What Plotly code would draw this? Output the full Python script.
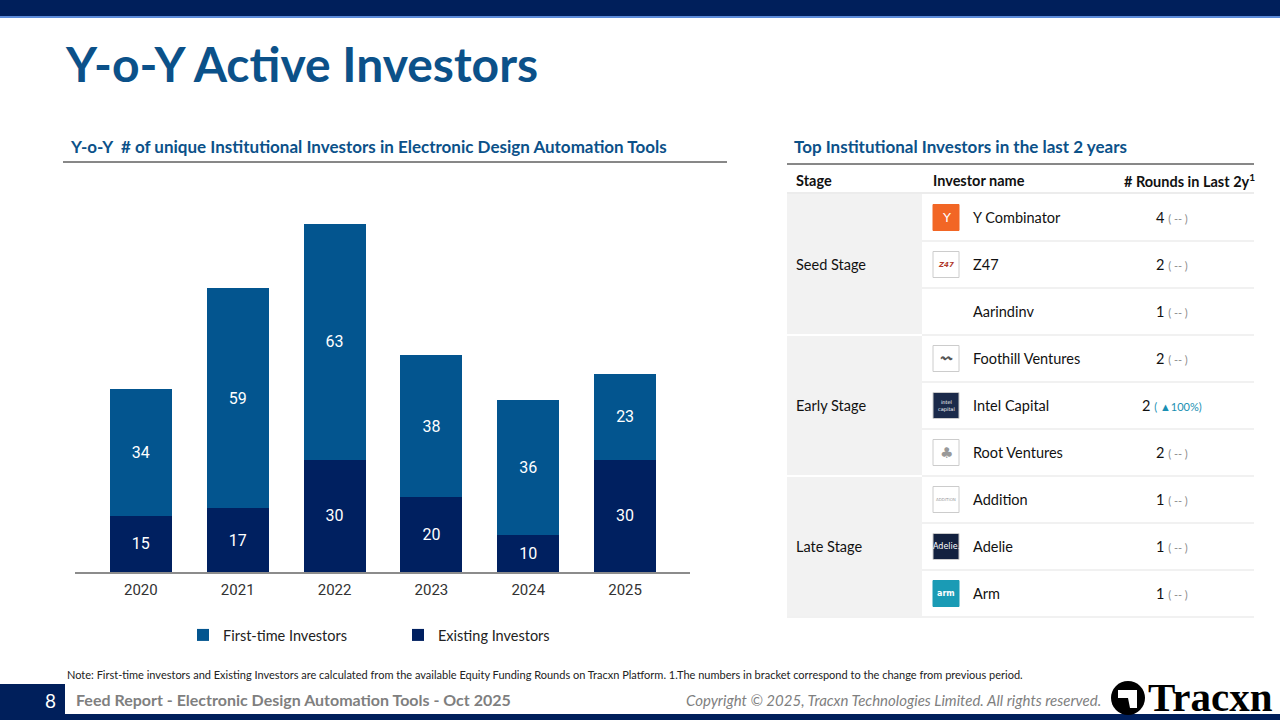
import plotly.graph_objects as go

W, H = 1280, 720

years = ["2020", "2021", "2022", "2023", "2024", "2025"]
existing = [15, 17, 30, 20, 10, 30]
first_time = [34, 59, 63, 38, 36, 23]
totals = [49, 76, 93, 58, 46, 53]

stages = ["Seed Stage", "Early Stage", "Late Stage"]
investors = ["Y Combinator", "Z47", "Aarindinv", "Foothill Ventures", "Intel Capital",
             "Root Ventures", "Addition", "Adelie", "Arm"]
rounds = [4, 2, 1, 2, 2, 2, 1, 1, 1]
changes = ["--", "--", "--", "--", "▲100%", "--", "--", "--", "--"]

C_FIRST = "#03558F"
C_EXIST = "#002060"
C_TITLE = "#0B5189"
C_NAVY = "#001F5B"
FONT = "Lato"


def px(x):
    return x / W


def py(y):
    return 1 - y / H


fig = go.Figure()
fig.add_trace(go.Bar(x=years, y=existing, name="Existing Investors", marker_color=C_EXIST,
                     text=existing, textposition="inside", insidetextanchor="middle",
                     textfont=dict(color="white", size=16, family="Roboto"), legendrank=2,
                     marker_line_width=0))
fig.add_trace(go.Bar(x=years, y=first_time, name="First-time Investors", marker_color=C_FIRST,
                     text=first_time, textposition="inside", insidetextanchor="middle",
                     textfont=dict(color="white", size=16, family="Roboto"), legendrank=1,
                     marker_line_width=0))

annotations = []
for yr, t in zip(years, totals):
    annotations.append(dict(x=yr, y=t, xref="x", yref="y", text=str(t), showarrow=False,
                            yshift=26, font=dict(size=16, color="#333333", family="Roboto")))

shapes = []
# top banner
shapes.append(dict(type="rect", xref="paper", yref="paper", x0=0, x1=1, y0=py(16), y1=1,
                   fillcolor=C_NAVY, line_width=0, layer="below"))
shapes.append(dict(type="rect", xref="paper", yref="paper", x0=0, x1=1, y0=py(18), y1=py(16),
                   fillcolor="#5B8BD9", line_width=0, layer="below"))

# title
annotations.append(dict(xref="paper", yref="paper", x=px(63), y=py(63), xanchor="left", yanchor="middle",
                        text="<b>Y-o-Y Active Investors</b>", showarrow=False,
                        font=dict(size=48, color=C_TITLE, family=FONT)))

# section headers
annotations.append(dict(xref="paper", yref="paper", x=px(68), y=py(147), xanchor="left", yanchor="middle",
                        text="<b>Y-o-Y  # of unique Institutional Investors in Electronic Design Automation Tools</b>",
                        showarrow=False, font=dict(size=17, color=C_TITLE, family=FONT)))
shapes.append(dict(type="line", xref="paper", yref="paper", x0=px(63), x1=px(727), y0=py(162), y1=py(162),
                   line=dict(color="#111111", width=1)))
annotations.append(dict(xref="paper", yref="paper", x=px(792), y=py(147), xanchor="left", yanchor="middle",
                        text="<b>Top Institutional Investors in the last 2 years</b>",
                        showarrow=False, font=dict(size=17, color=C_TITLE, family=FONT)))
shapes.append(dict(type="line", xref="paper", yref="paper", x0=px(787), x1=px(1254), y0=py(164), y1=py(164),
                   line=dict(color="#111111", width=1)))

# table header
hdr_font = dict(size=14.5, color="#111111", family=FONT)
annotations.append(dict(xref="paper", yref="paper", x=px(794), y=py(180), xanchor="left", yanchor="middle",
                        text="<b>Stage</b>", showarrow=False, font=hdr_font))
annotations.append(dict(xref="paper", yref="paper", x=px(931), y=py(180), xanchor="left", yanchor="middle",
                        text="<b>Investor name</b>", showarrow=False, font=hdr_font))
annotations.append(dict(xref="paper", yref="paper", x=px(1257), y=py(180), xanchor="right", yanchor="middle",
                        text="<b># Rounds in Last 2y<sup>1</sup></b>", showarrow=False, font=hdr_font))
shapes.append(dict(type="line", xref="paper", yref="paper", x0=px(787), x1=px(1254), y0=py(193), y1=py(193),
                   line=dict(color="#D9D9D9", width=1)))

ROW0, RH = 194, 47
# stage blocks
for i, st in enumerate(stages):
    y0 = ROW0 + i * 3 * RH + (1 if i > 0 else 0)
    y1 = ROW0 + (i + 1) * 3 * RH - 1
    shapes.append(dict(type="rect", xref="paper", yref="paper", x0=px(787), x1=px(922), y0=py(y1), y1=py(y0),
                       fillcolor="#F2F2F2", line_width=0, layer="below"))
    annotations.append(dict(xref="paper", yref="paper", x=px(794), y=py((y0 + y1) / 2), xanchor="left",
                            yanchor="middle", text=st, showarrow=False,
                            font=dict(size=14.5, color="#111111", family=FONT)))

for r in range(len(investors) + 1):
    yl = ROW0 + r * RH
    if r == len(investors):
        shapes.append(dict(type="line", xref="paper", yref="paper", x0=px(787), x1=px(1254), y0=py(yl), y1=py(yl),
                           line=dict(color="#E3E3E3", width=1)))
    elif r > 0:
        shapes.append(dict(type="line", xref="paper", yref="paper", x0=px(922), x1=px(1254), y0=py(yl), y1=py(yl),
                           line=dict(color="#E3E3E3", width=1)))

# logos (simple approximations)
logo_style = [
    ("#F26625", "#F26625", "Y", "white", 13),
    ("white", "#CCCCCC", "<b><i>Z47</i></b>", "#B03A2E", 7),
    (None, None, "", "white", 6),
    ("white", "#CCCCCC", "<b>〰</b>", "#555555", 11),
    ("#1B2A4A", "#CCCCCC", "intel<br>capital", "white", 5),
    ("white", "#CCCCCC", "♣", "#999999", 15),
    ("white", "#CCCCCC", "ADDITION", "#999999", 4),
    ("#13213F", "#CCCCCC", "Adelie.", "white", 8),
    ("#1A9BB5", "#1A9BB5", "<b>arm</b>", "white", 8),
]
for i, (name, rnd, chg) in enumerate(zip(investors, rounds, changes)):
    yc = ROW0 + i * RH + RH / 2
    fill, border, lt, lc, ls = logo_style[i]
    if fill:
        shapes.append(dict(type="rect", xref="paper", yref="paper", x0=px(933), x1=px(959),
                           y0=py(yc + 13), y1=py(yc - 13), fillcolor=fill,
                           line=dict(color=border, width=1)))
        annotations.append(dict(xref="paper", yref="paper", x=px(946), y=py(yc), xanchor="center",
                                yanchor="middle", text=lt, showarrow=False,
                                font=dict(size=ls, color=lc, family="DejaVu Sans")))
    annotations.append(dict(xref="paper", yref="paper", x=px(971), y=py(yc), xanchor="left", yanchor="middle",
                            text=name, showarrow=False, font=dict(size=14.5, color="#111111", family=FONT)))
    if chg == "--":
        ctext = "<span style='color:#8C8C8C;font-size:11px'>( -- )</span>"
    else:
        ctext = "<span style='color:#1A8FB3;font-size:11px'>( " + chg + ")</span>"
    annotations.append(dict(xref="paper", yref="paper", x=px(1172), y=py(yc), xanchor="center",
                            yanchor="middle", text=f"{rnd} " + ctext, showarrow=False,
                            font=dict(size=14.5, color="#111111", family=FONT)))

# footer note
annotations.append(dict(xref="paper", yref="paper", x=px(65), y=py(674), xanchor="left", yanchor="middle",
                        text="Note: First-time investors and Existing Investors are calculated from the available Equity Funding Rounds on Tracxn Platform. 1.The numbers in bracket correspond to the change from previous period.",
                        showarrow=False, font=dict(size=11, color="#222222", family=FONT)))
# footer band
shapes.append(dict(type="rect", xref="paper", yref="paper", x0=0, x1=px(65), y0=0, y1=py(684),
                   fillcolor=C_NAVY, line_width=0))
shapes.append(dict(type="rect", xref="paper", yref="paper", x0=0, x1=1, y0=0, y1=py(714),
                   fillcolor=C_NAVY, line_width=0))
annotations.append(dict(xref="paper", yref="paper", x=px(50), y=py(700), xanchor="center", yanchor="middle",
                        text="8", showarrow=False, font=dict(size=19, color="white", family=FONT)))
annotations.append(dict(xref="paper", yref="paper", x=px(74), y=py(699), xanchor="left", yanchor="middle",
                        text="<b>Feed Report - Electronic Design Automation Tools - Oct 2025</b>", showarrow=False,
                        font=dict(size=16, color="#7F7F7F", family=FONT)))
annotations.append(dict(xref="paper", yref="paper", x=px(1103), y=py(700), xanchor="right", yanchor="middle",
                        text="<i>Copyright © 2025, Tracxn Technologies Limited. All rights reserved.</i>",
                        showarrow=False, font=dict(size=15, color="#7F7F7F", family=FONT)))
# Tracxn logo
shapes.append(dict(type="circle", xref="paper", yref="paper", x0=px(1111), x1=px(1145), y0=py(715), y1=py(681),
                   fillcolor="black", line_width=0))
shapes.append(dict(type="path", xref="paper", yref="paper",
                   path=f"M {px(1118)},{py(690)} L {px(1137)},{py(690)} L {px(1137)},{py(708)} L {px(1130)},{py(708)} L {px(1128)},{py(698)} L {px(1118)},{py(698)} Z",
                   fillcolor="white", line_width=0))
annotations.append(dict(xref="paper", yref="paper", x=px(1146), y=py(697), xanchor="left", yanchor="middle",
                        text="<b>Tracxn</b>", showarrow=False,
                        font=dict(size=41, color="black", family="Liberation Serif")))

fig.update_layout(
    width=W, height=H, margin=dict(l=0, r=0, t=0, b=0),
    paper_bgcolor="white", plot_bgcolor="white",
    barmode="stack", bargap=0.36,
    xaxis=dict(domain=[px(75), px(690)], range=[-0.68, 5.67], showline=True, linecolor="#8C8C8C",
               linewidth=2, ticks="", showgrid=False, tickfont=dict(size=15, color="#333333", family="Roboto"),
               ticklabelstandoff=3, fixedrange=True),
    yaxis=dict(domain=[py(572), py(180)], range=[0, (572 - 180) / 3.742], visible=False, showgrid=False,
               fixedrange=True),
    showlegend=True,
    legend=dict(orientation="h", x=px(183), y=py(635), xanchor="left", yanchor="middle", traceorder="normal",
                font=dict(size=14.5, color="#222222", family=FONT), entrywidth=170, entrywidthmode="pixels",
                bgcolor="rgba(0,0,0,0)"),
    annotations=annotations, shapes=shapes,
    uniformtext=dict(mode="show", minsize=16),
)

fig.write_html("out.html", config={"displayModeBar": False},
               post_script="document.body.style.margin='0';document.body.style.overflow='hidden';")
